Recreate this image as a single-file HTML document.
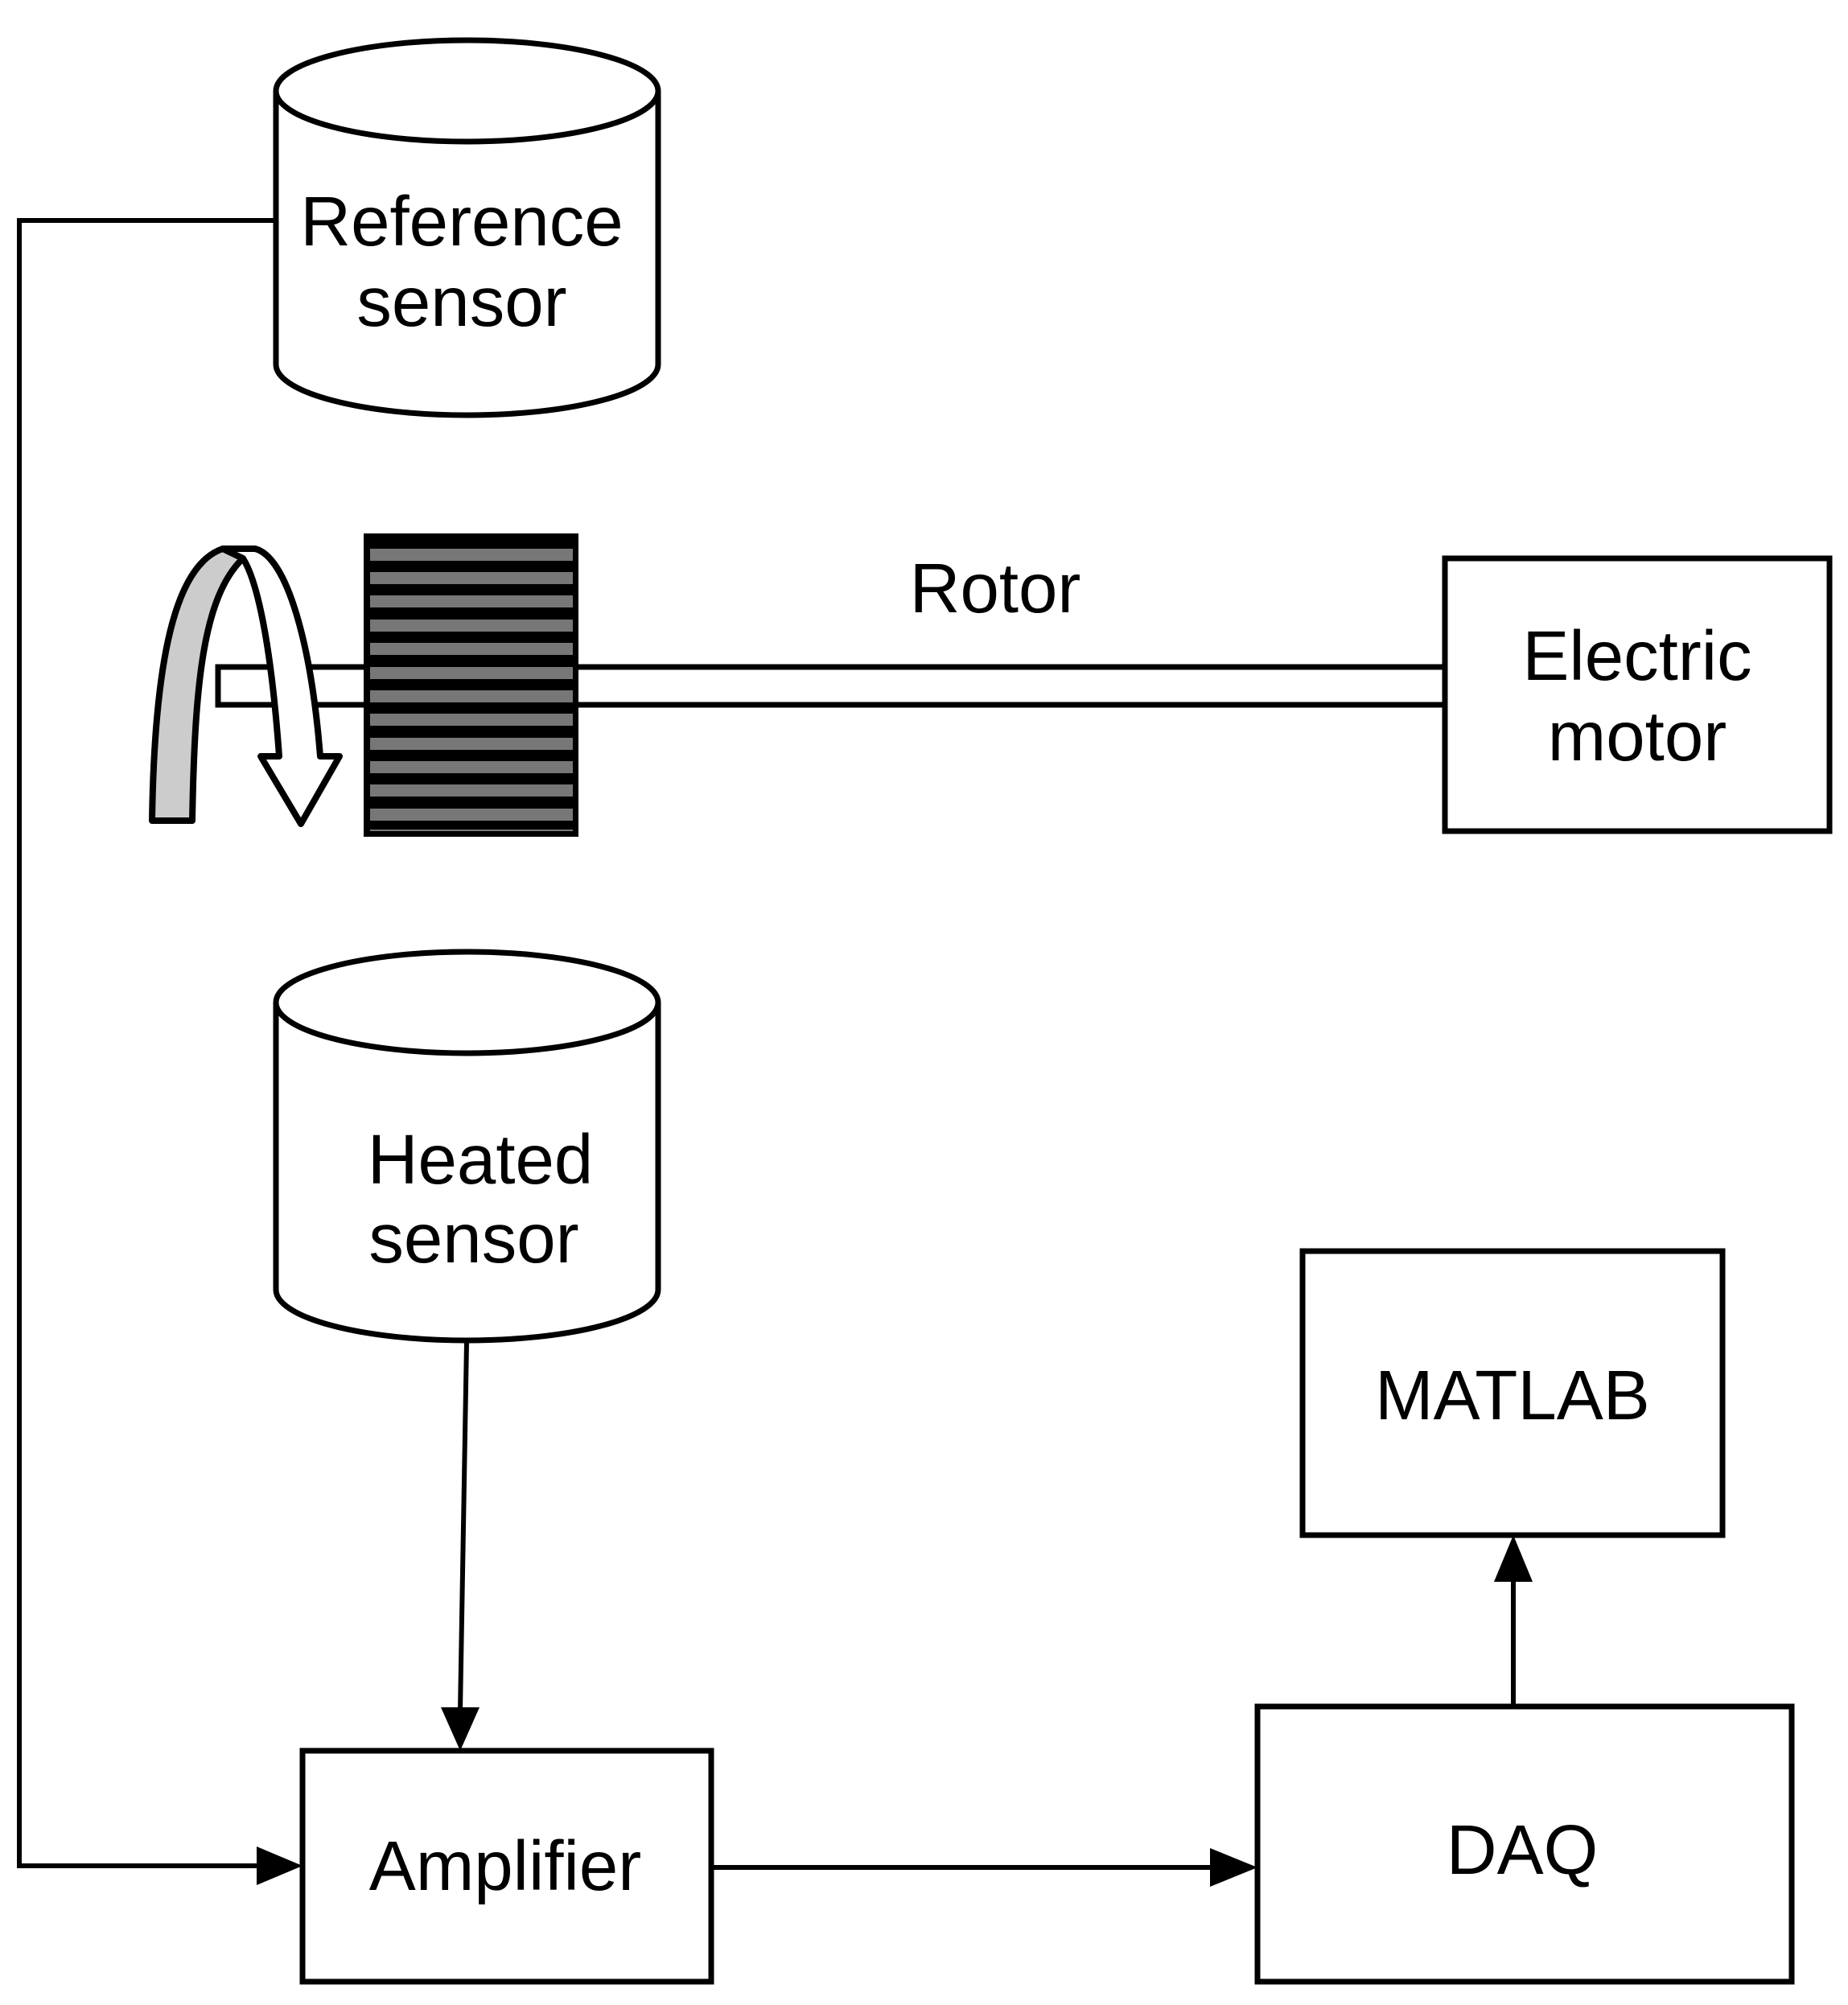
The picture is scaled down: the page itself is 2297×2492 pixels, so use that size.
<!DOCTYPE html>
<html><head><style>body{margin:0;background:#fff}</style></head><body>
<svg width="2297" height="2487" viewBox="0 0 2297 2487" xmlns="http://www.w3.org/2000/svg" font-family="Liberation Sans, Arial, sans-serif" font-size="87">
<rect width="2297" height="2487" fill="#fff"/>
<g stroke="#000" stroke-width="7" fill="#fff">
<path d="M343,113 L343,453 A237.5,63 0 0 0 818,453 L818,113"/>
<ellipse cx="580.5" cy="113" rx="237.5" ry="63"/>
<path d="M343,1246 L343,1603 A237.5,63 0 0 0 818,1603 L818,1246"/>
<ellipse cx="580.5" cy="1246" rx="237.5" ry="63"/>
<rect x="1796" y="694" width="478" height="339"/>
<rect x="1619" y="1555" width="522" height="353"/>
<rect x="376" y="2176" width="508" height="287"/>
<rect x="1563" y="2121" width="664" height="342"/>
<rect x="271" y="829" width="1525" height="47"/>
</g>
<g stroke="#000" stroke-width="8" stroke-linejoin="round">
<path d="M189,1020 C192,822 217,702 277,682 L302,694 C252,742 242,852 239,1020 Z" fill="#ccc"/>
<path d="M277,682 L317,682 C357,692 387,802 398,940 L422,940 L374,1024 L324,940 L347,940 C337,802 320,722 302,694 Z" fill="#fff"/>
</g>
<rect x="452" y="663" width="267" height="377" fill="#000"/>
<g fill="#777">
<rect x="460" y="682" width="252" height="15"/><rect x="460" y="711" width="252" height="15"/>
<rect x="460" y="740" width="252" height="15"/><rect x="460" y="770" width="252" height="15"/>
<rect x="460" y="799" width="252" height="15"/><rect x="460" y="829" width="252" height="15"/>
<rect x="460" y="858" width="252" height="15"/><rect x="460" y="887" width="252" height="15"/>
<rect x="460" y="917" width="252" height="15"/><rect x="460" y="946" width="252" height="15"/>
<rect x="460" y="975" width="252" height="15"/><rect x="460" y="1005" width="252" height="15"/>
<rect x="460" y="1031" width="252" height="2"/>
</g>
<g stroke="#000" stroke-width="6" fill="none">
<polyline points="343,274 24,274 24,2319 322,2319"/>
<line x1="580" y1="1668" x2="572" y2="2127"/>
<line x1="884" y1="2321" x2="1507" y2="2321"/>
<line x1="1881" y1="2121" x2="1881" y2="1962"/>
</g>
<g fill="#000">
<polygon points="319,2295 376,2319 319,2343"/>
<polygon points="548,2122 596,2122 572,2176"/>
<polygon points="1504,2297 1563,2321 1504,2345"/>
<polygon points="1857,1966 1905,1966 1881,1908"/>
</g>
<g text-anchor="middle" fill="#000">
<text x="574" y="305">Reference</text>
<text x="574" y="405">sensor</text>
<text x="1237" y="761">Rotor</text>
<text x="2035" y="845">Electric</text>
<text x="2035" y="945">motor</text>
<text x="597" y="1471">Heated</text>
<text x="589" y="1569">sensor</text>
<text x="1880" y="1764">MATLAB</text>
<text x="628" y="2349">Amplifier</text>
<text x="1892" y="2329">DAQ</text>
</g>
</svg>
</body></html>
